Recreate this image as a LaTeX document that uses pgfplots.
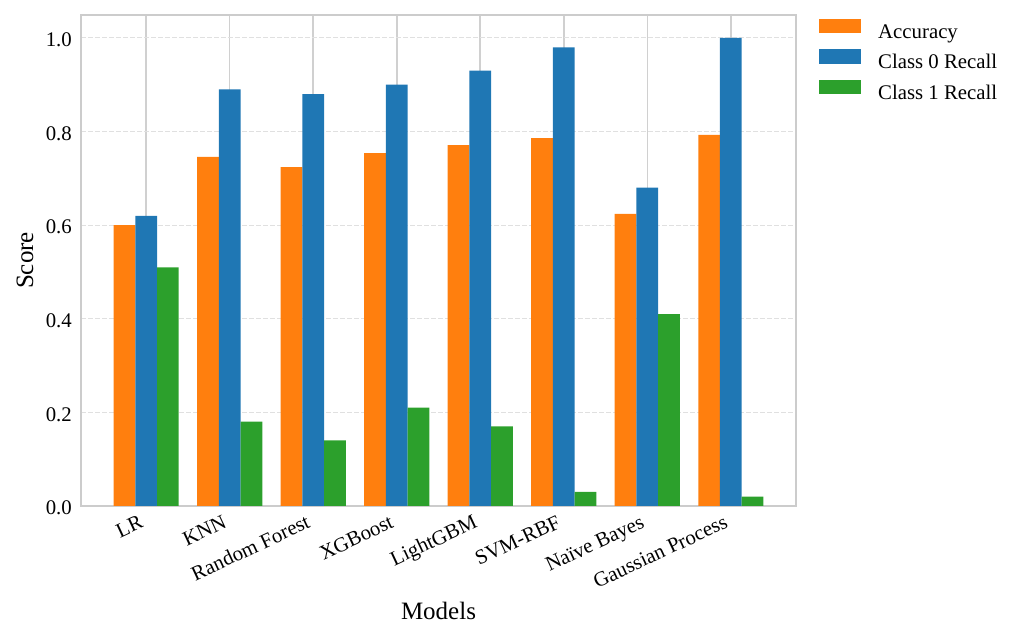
\documentclass[border=0pt]{standalone}
\usepackage{fontspec}
\setmainfont{Liberation Serif}
\usepackage{pgfplots}
\pgfplotsset{compat=1.18}
\definecolor{cOrange}{HTML}{FF7F0E}
\definecolor{cBlue}{HTML}{1F77B4}
\definecolor{cGreen}{HTML}{2CA02C}
\definecolor{frameGray}{HTML}{CCCCCC}
\definecolor{vgrid}{HTML}{D0D0D0}
\definecolor{hgrid}{HTML}{E0E0E0}
\pgfplotsset{
  mybar/.style={ybar, draw=none, bar width=0.26,
    legend image code/.code={\fill[##1] (0bp,0bp) rectangle (42bp,14.5bp);}},
}
\begin{document}
\begin{tikzpicture}
\path[use as bounding box] (0,0) rectangle (1020bp,640bp);
\begin{axis}[
  at={(81bp,134bp)}, anchor=south west,
  width=715bp, height=491bp, scale only axis,
  xmin=-0.78, xmax=7.78, ymin=0, ymax=1.049,
  xtick={0,1,2,3,4,5,6,7},
  xticklabels={LR,KNN,Random Forest,XGBoost,LightGBM,SVM-RBF,Naïve Bayes,Gaussian Process},
  ytick={0,0.2,0.4,0.6,0.8,1.0},
  yticklabels={0.0,0.2,0.4,0.6,0.8,1.0},
  major tick length=0pt,
  tick style={draw=none},
  axis line style={draw=frameGray, line width=2bp},
  xmajorgrids, ymajorgrids,
  x grid style={draw=vgrid, line width=1.6bp, solid},
  y grid style={draw=hgrid, line width=1bp, dash pattern=on 4.5bp off 2.5bp},
  tick label style={font=\fontsize{20.8bp}{24bp}\selectfont},
  xticklabel style={xshift=-7.9bp, yshift=-8bp, rotate=25, anchor=north east,
    inner sep=0pt, text height=14.2bp, text depth=4.5bp},
  yticklabel style={inner sep=0pt, xshift=-9bp, yshift=-2bp, anchor=east},
  label style={font=\fontsize{25bp}{30bp}\selectfont},
  xlabel={Models},
  ylabel={Score},
  xlabel style={at={(axis description cs:0.5,0)}, anchor=base, yshift=-113bp},
  ylabel style={at={(axis description cs:-0.0783,0.5)}, anchor=center},
  legend style={at={(1,1)}, anchor=north west, xshift=23bp, yshift=-3.5bp,
    draw=none, fill=none, inner sep=0pt, row sep=6bp,
    font=\fontsize{20.8bp}{24bp}\selectfont,
    nodes={inner sep=0pt, text height=15bp, text depth=5bp},
    /tikz/every odd column/.append style={column sep=17bp}},
  legend cell align=left,
]
\addplot[mybar, fill=cOrange, bar shift=-0.26] coordinates {
  (0,0.600) (1,0.746) (2,0.724) (3,0.754) (4,0.771) (5,0.786) (6,0.624) (7,0.793)};
\addplot[mybar, fill=cBlue, bar shift=0] coordinates {
  (0,0.62) (1,0.89) (2,0.88) (3,0.90) (4,0.93) (5,0.98) (6,0.68) (7,1.00)};
\addplot[mybar, fill=cGreen, bar shift=0.26] coordinates {
  (0,0.51) (1,0.18) (2,0.14) (3,0.21) (4,0.17) (5,0.03) (6,0.41) (7,0.02)};
\legend{Accuracy,Class 0 Recall,Class 1 Recall}
\end{axis}
\end{tikzpicture}
\end{document}
